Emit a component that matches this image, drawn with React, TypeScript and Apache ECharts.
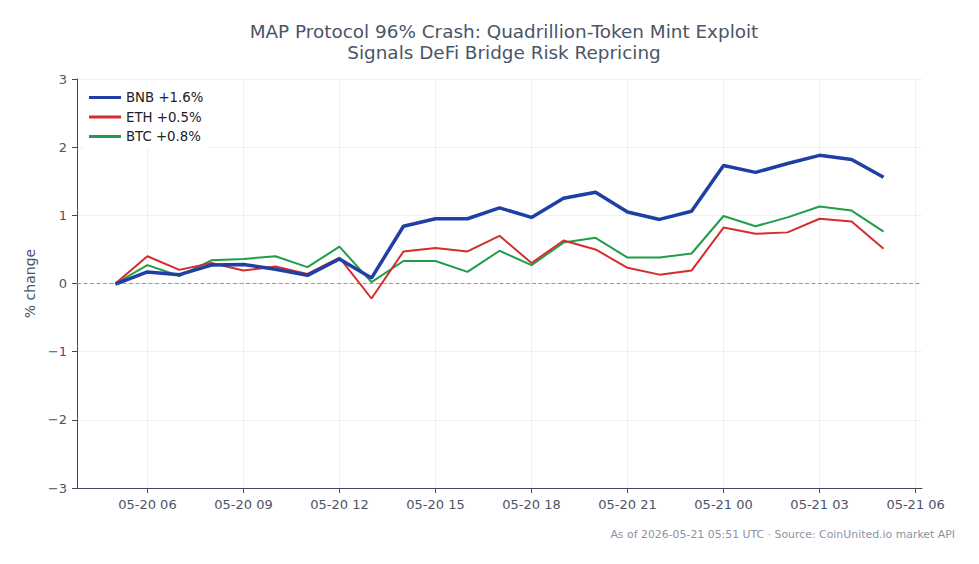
import React, { useEffect, useRef } from "react";
import * as echarts from "echarts";

const hours = [5, 6, 7, 8, 9, 10, 11, 12, 13, 14, 15, 16, 17, 18, 19, 20, 21, 22, 23, 24, 25, 26, 27, 28, 29];
const bnb = [-0.01, 0.17, 0.13, 0.27, 0.28, 0.21, 0.12, 0.36, 0.08, 0.84, 0.95, 0.95, 1.11, 0.97, 1.25, 1.34, 1.05, 0.94, 1.06, 1.73, 1.63, 1.76, 1.88, 1.82, 1.56];
const eth = [0.0, 0.4, 0.2, 0.3, 0.19, 0.25, 0.14, 0.38, -0.22, 0.47, 0.52, 0.47, 0.7, 0.3, 0.63, 0.5, 0.23, 0.13, 0.19, 0.82, 0.73, 0.75, 0.95, 0.91, 0.51];
const btc = [0.0, 0.27, 0.11, 0.34, 0.36, 0.4, 0.24, 0.54, 0.02, 0.33, 0.33, 0.17, 0.48, 0.27, 0.6, 0.67, 0.38, 0.38, 0.44, 0.99, 0.84, 0.97, 1.13, 1.07, 0.76];
const xTicks = [6, 9, 12, 15, 18, 21, 24, 27, 30];
const seriesNames = ["BNB +1.6%", "ETH +0.5%", "BTC +0.8%"];

const FONT = "DejaVu Sans";
const TEXT = "#4a5568";

function fmtHour(v: number): string {
  const day = v >= 24 ? "05-21" : "05-20";
  const h = Math.round(v) % 24;
  return `${day} ${String(h).padStart(2, "0")}`;
}

export default function App() {
  const ref = useRef<HTMLDivElement>(null);
  useEffect(() => {
    if (!ref.current) return;
    const chart = echarts.init(ref.current, undefined, { renderer: "svg" });
    const pair = (arr: number[]) => hours.map((h, i) => [h, arr[i]]);
    chart.setOption({
      animation: false,
      backgroundColor: "#ffffff",
      textStyle: { fontFamily: FONT },
      title: [
        {
          text: "MAP Protocol 96% Crash: Quadrillion-Token Mint Exploit\nSignals DeFi Bridge Risk Repricing",
          left: 499,
          top: 16,
          textAlign: "center",
          textStyle: { fontFamily: FONT, fontSize: 18.4, fontWeight: "normal", color: TEXT, lineHeight: 21 },
        },
        {
          text: "As of 2026-05-21 05:51 UTC · Source: CoinUnited.io market API",
          right: 19,
          top: 524,
          textStyle: { fontFamily: FONT, fontSize: 10.9, fontWeight: "normal", color: "#8a94a3" },
        },
      ],
      legend: {
        orient: "vertical",
        left: 84,
        top: 86,
        itemWidth: 32,
        itemHeight: 3,
        itemGap: 6.5,
        backgroundColor: "#ffffff",
        textStyle: { fontFamily: FONT, fontSize: 13.3, color: "#222" },
        data: seriesNames.map((n) => ({ name: n, icon: "rect" })),
      },
      grid: { left: 77, right: 57, top: 79, bottom: 76, containLabel: false },
      xAxis: {
        type: "value",
        min: 3.8,
        max: 30.2,
        axisLine: { show: true, onZero: false, lineStyle: { color: "#3f4b5e", width: 1 } },
        axisTick: { show: true, customValues: xTicks, length: 5, lineStyle: { color: "#3f4b5e" } },
        axisLabel: {
          customValues: xTicks,
          formatter: (v: number) => fmtHour(v),
          color: TEXT,
          fontSize: 13,
          fontFamily: FONT,
          margin: 10,
        },
        splitLine: { show: true, customValues: xTicks, lineStyle: { color: "#edf0f4", width: 1 } },
      },
      yAxis: {
        type: "value",
        min: -3,
        max: 3,
        interval: 1,
        name: "% change",
        nameLocation: "middle",
        nameGap: 40,
        nameTextStyle: { fontFamily: FONT, fontSize: 14, color: TEXT },
        axisLine: { show: true, onZero: false, lineStyle: { color: "#3f4b5e", width: 1 } },
        axisTick: { show: true, length: 5, lineStyle: { color: "#3f4b5e" } },
        axisLabel: {
          color: TEXT,
          fontSize: 13,
          fontFamily: FONT,
          margin: 10,
          formatter: (v: number) => (v < 0 ? "\u2212" + Math.abs(v) : String(v)),
        },
        splitLine: { show: true, lineStyle: { color: "#edf0f4", width: 1 } },
      },
      series: [
        {
          name: seriesNames[0],
          type: "line",
          data: pair(bnb),
          symbol: "none",
          z: 5,
          lineStyle: { color: "#1f3fa6", width: 3.5 },
          itemStyle: { color: "#1f3fa6" },
          markLine: {
            silent: true,
            symbol: "none",
            label: { show: false },
            z: 1,
            lineStyle: { type: [4, 2.5], color: "#8c9bb5", width: 1 },
            data: [{ yAxis: 0 }],
          },
        },
        {
          name: seriesNames[1],
          type: "line",
          data: pair(eth),
          symbol: "none",
          z: 4,
          lineStyle: { color: "#d62c2c", width: 2 },
          itemStyle: { color: "#d62c2c" },
        },
        {
          name: seriesNames[2],
          type: "line",
          data: pair(btc),
          symbol: "none",
          z: 3,
          lineStyle: { color: "#1f9e4a", width: 2 },
          itemStyle: { color: "#1f9e4a" },
        },
      ],
    });
    return () => chart.dispose();
  }, []);
  return <div ref={ref} style={{ width: 979, height: 564, position: "absolute", left: 0, top: 0 }} />;
}
